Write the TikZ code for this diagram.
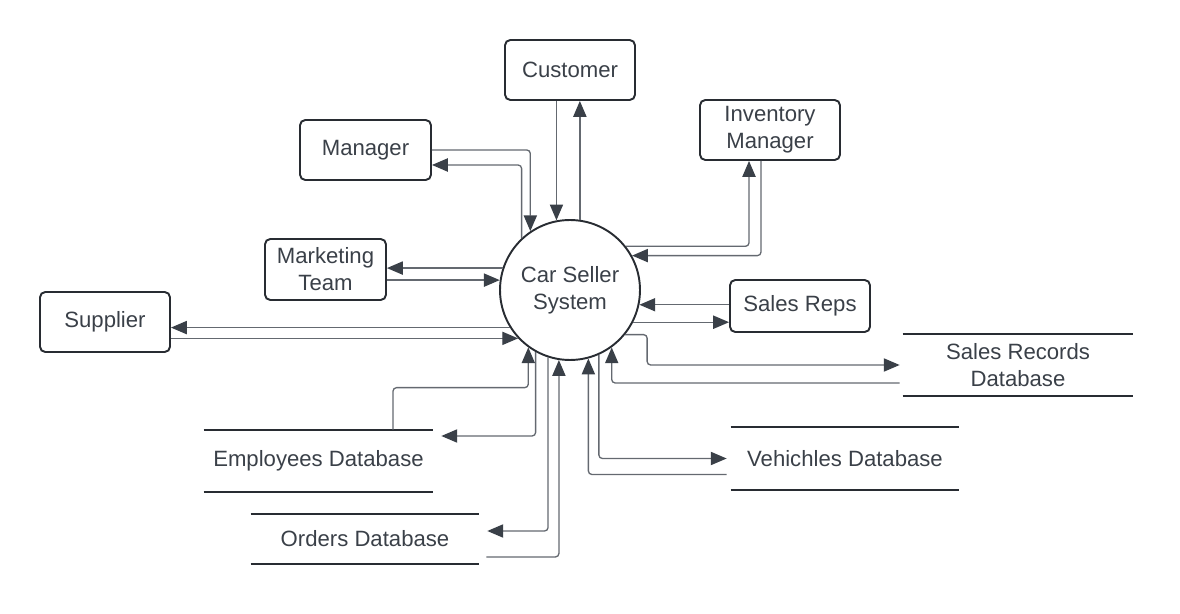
\documentclass[tikz,border=0pt]{standalone}
\usepackage{fontspec}
\setmainfont{Liberation Sans}
\usetikzlibrary{arrows.meta,calc}
\definecolor{inkcol}{RGB}{58,64,72}
\definecolor{edgecol}{RGB}{40,44,50}
\definecolor{linecol}{RGB}{100,105,112}
\begin{document}
\begin{tikzpicture}[x=0.02cm,y=-0.02cm,
  font=\fontsize{12.6}{15.3}\selectfont, text=inkcol,
  entity/.style={draw=edgecol,line width=1.1pt,rounded corners=3pt,minimum width=2.6cm,minimum height=1.2cm,align=center},
  process/.style={draw=edgecol,line width=1.1pt,circle,minimum size=2.8cm,inner sep=0pt,align=center},
  store/.style={minimum width=4.58cm,minimum height=1.24cm,align=center},
  storeline/.style={draw=edgecol,line width=1.3pt},
  flow/.style={draw=linecol,line width=0.75pt,rounded corners=2pt,-{Triangle[length=9pt,width=7.5pt,color=inkcol]}}]
\useasboundingbox (0,0) rectangle (1180,614);
\node[process] (sys) at (570,290) {Car Seller\\System};
\node[entity] (cust) at (570,70) {Customer};
\node[entity,minimum width=2.62cm] (mgr) at (365.5,150) {Manager};
\node[entity,minimum width=2.8cm] (inv) at (770,130) {Inventory\\Manager};
\node[entity,minimum width=2.42cm,minimum height=1.22cm] (mkt) at (325.5,269.5) {Marketing\\Team};
\node[entity] (sup) at (105,322) {Supplier};
\node[entity,minimum width=2.8cm,minimum height=1.04cm] (reps) at (800,306) {Sales Reps};
\node[store] (emp) at (318.5,461) {Employees Database};
\node[store,minimum width=4.56cm,minimum height=1cm] (ord) at (365,539) {Orders Database};
\node[store,minimum width=4.56cm,minimum height=1.26cm] (veh) at (845,458.5) {Vehichles Database};
\node[store,minimum width=4.6cm] (rec) at (1018,365) {Sales Records\\Database};
\foreach \s in {emp,ord,veh,rec}
  \draw[storeline] (\s.north west) -- (\s.north east) (\s.south west) -- (\s.south east);
\draw[flow] (cust.south -| sys.101) -- (sys.101);
\draw[flow] (sys.82) -- (sys.82 |- cust.south);
\draw[flow] (mgr.east) -| (sys.124);
\draw[flow] (sys.133) |- ($(mgr.east)+(0,15)$);
\draw[flow] (sys.38) -| ($(inv.south)+(-21,0)$);
\draw[flow] ($(inv.south)+(-9,0)$) |- (sys.29);
\draw[flow] (sys.162.5) -- (sys.162.5 -| mkt.east);
\draw[flow] (mkt.east |- sys.172) -- (sys.172);
\draw[flow] (sys.212) -- (sys.212 -| sup.east);
\draw[flow] (sup.east |- sys.223) -- (sys.223);
\draw[flow] (reps.west |- sys.348.5) -- (sys.348.5);
\draw[flow] (sys.333) -- (sys.333 -| reps.west);
\draw[flow] (sys.321) -- ++(22,0) |- ($(rec.west)+(-3,0)$);
\draw[flow] ($(rec.west)+(-3,18)$) -| (sys.306);
\draw[flow] (sys.294.5) |- ($(veh.west)+(-4,0)$);
\draw[flow] ($(veh.west)+(-4,16)$) -| (sys.285.7);
\draw[flow] ($(ord.east)+(7,18)$) -| (sys.261.8);
\draw[flow] (sys.252.5) |- ($(ord.east)+(8,-8)$);
\draw[flow] (sys.241.9) |- ($(emp.east)+(8,-25)$);
\draw[flow] ($(emp.north)+(74.5,0)$) -- ++(0,-42) -| (sys.234.1);
\end{tikzpicture}
\end{document}
